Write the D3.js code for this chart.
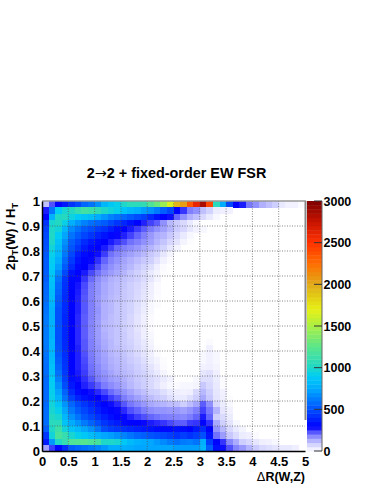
<!DOCTYPE html>
<html>
<head>
<meta charset="utf-8">
<script src="https://cdn.jsdelivr.net/npm/d3@7"></script>
<style>
html,body{margin:0;padding:0;background:#fff;}
svg{display:block;}
text{font-family:"Liberation Sans",Arial,sans-serif;font-weight:bold;fill:#000;}
</style>
</head>
<body>
<script>
var xTicks = [0,0.5,1,1.5,2,2.5,3,3.5,4,4.5,5];
var yTicks = [0,0.1,0.2,0.3,0.4,0.5,0.6,0.7,0.8,0.9,1];
var zTicks = [0,500,1000,1500,2000,2500,3000];
var colorStops = [0,100,200,290,500,750,900,1000,1250,1500,1700,2000,2250,2500,2750,3000];
var colorValues = ["#ffffff","#c8c8ff","#7878ff","#0000ff","#0050ff","#00aaff","#00cdf5","#1ed7c8","#5ae68c","#aaf046","#e6f014","#e1aa19","#ff6e00","#ff3200","#c81400","#7d0000"];

// rows run from the top of the plot (0.975-1) down to (0-0.025), 40 bins of 0.125 in dR, missing = 0
var counts = [
[110,230,300,350,420,480,560,600,680,800,880,920,1000,1060,1060,1080,1200,1300,1450,1650,1950,2050,2350,2600,2850,2420,1050,760,480,300,270,200,170,130,110,90,40,25,25,10],
[270,600,900,980,1020,1100,1150,1130,1080,1000,960,920,860,810,770,720,680,620,540,470,300,250,190,170,110,80,35,30,25],
[300,780,1010,1030,950,890,860,830,760,700,640,600,570,530,490,460,400,340,300,280,215,170,130,110,70,40,15],
[420,980,1020,930,770,700,640,590,560,530,480,430,390,340,300,265,240,220,170,120,95,70,40,15],
[460,1000,960,800,660,590,530,490,450,420,370,320,300,270,245,220,195,170,150,125,95,75,45,25,15],
[480,1010,900,740,600,530,470,430,380,340,305,285,265,240,215,190,160,135,125,100,70,40,15],
[490,1000,850,680,540,470,400,350,310,290,270,250,230,205,190,170,150,125,105,75,50,20,5],
[500,960,820,640,510,430,360,310,295,270,240,210,190,175,160,140,125,105,80,45,20],
[520,930,800,610,480,370,320,295,280,245,205,185,165,150,135,120,100,80,45,20],
[530,910,760,570,440,340,300,285,255,215,185,165,145,130,115,100,85,55,25,10],
[530,900,720,530,400,310,290,265,230,195,170,150,135,120,100,80,60,30,10],
[540,880,660,480,340,300,270,235,205,175,155,140,125,105,85,65,40,20,5],
[540,860,600,430,310,285,250,210,175,150,130,120,110,100,85,65,45,20],
[560,840,570,420,305,275,235,195,165,140,125,115,105,90,75,55,30,10],
[570,830,550,410,300,270,230,190,165,140,125,115,100,90,70,50,30,10],
[580,820,530,400,300,265,225,190,160,135,120,110,100,85,65,45,25,5],
[590,800,520,400,300,265,225,190,160,130,120,105,95,80,60,40,15,5],
[600,790,500,400,300,265,225,190,165,130,120,105,95,80,55,35,15],
[610,790,500,390,295,260,220,190,160,130,115,105,95,75,50,30,10],
[620,790,500,390,295,260,220,185,155,125,115,105,90,75,50,30,10],
[620,790,500,390,295,260,220,185,155,125,115,105,90,75,50,30,10],
[620,790,500,390,295,260,220,185,155,130,115,105,95,75,55,30,15],
[620,800,500,395,295,260,225,190,160,135,120,105,95,80,60,40,20,0,0,0,0,0,0,0,0,10],
[610,800,510,400,300,265,225,190,165,140,120,110,100,85,65,45,25,5,0,0,0,0,0,0,0,25],
[600,810,520,410,300,265,230,195,165,145,125,115,105,90,70,50,30,10,0,0,0,0,0,0,15,25,15],
[590,830,540,420,300,265,235,200,170,150,130,120,110,95,80,60,35,20,5,0,0,0,0,0,15,25,15],
[580,850,560,430,300,265,240,205,180,155,135,125,115,105,90,70,50,30,10,0,0,0,0,0,25,30,20],
[580,860,590,440,305,270,245,210,185,165,145,130,120,110,95,80,60,40,20,5,0,0,0,0,45,55,30],
[570,890,630,460,325,280,255,225,195,175,155,145,130,115,100,85,70,55,40,25,0,0,0,15,60,60,35,10],
[570,910,680,490,350,300,265,245,220,195,175,160,140,120,105,90,70,50,30,15,10,15,15,20,100,70,40,10],
[570,920,730,550,400,320,295,280,260,235,210,190,165,145,125,110,90,80,60,40,30,25,30,70,120,90,45,25],
[570,930,780,600,460,380,335,310,290,270,245,225,195,170,150,130,115,100,85,60,40,40,60,90,140,100,50,30,5],
[570,960,860,690,560,480,430,380,335,300,280,260,225,200,180,160,140,130,125,115,110,90,115,140,220,170,70,35,15],
[580,980,920,740,610,530,470,420,370,320,300,285,260,230,215,195,175,165,165,160,160,150,165,190,240,200,125,45,25],
[580,1020,980,800,680,600,520,470,420,370,325,300,285,265,245,230,215,205,195,190,185,180,195,215,270,215,90,65,35],
[580,1050,1050,860,760,690,620,550,490,430,390,360,310,300,295,285,270,260,250,235,220,220,245,250,300,255,140,85,50,15],
[540,1010,1130,960,860,810,740,680,600,490,450,430,410,390,370,350,340,320,310,310,330,320,300,350,400,290,165,120,70,40,20],
[430,960,1180,1100,980,920,880,830,780,740,720,680,640,600,560,540,510,490,470,450,420,450,420,450,500,340,205,155,100,65,35,30,10],
[360,700,1000,1100,1200,1220,1230,1200,1170,1000,1000,980,880,820,780,760,740,700,660,620,590,620,630,600,770,450,300,250,180,135,90,70,45,30,25,15],
[150,245,310,410,530,560,590,620,650,700,760,760,770,760,740,740,740,740,740,740,720,720,720,720,800,540,330,280,230,185,160,125,95,70,60,50,40,40,30]
];

var width = 383, height = 496;
var left = 42, right = 305, top_ = 201, bottom = 451;
var binW = 0.125, binH = 0.025;

var svg = d3.select("body").append("svg").attr("width",width).attr("height",height);

var x = d3.scaleLinear().domain([0,5]).range([left,right]);
var y = d3.scaleLinear().domain([0,1]).range([bottom,top_]);
var z = d3.scaleLinear().domain([0,3000]).range([451,201]);
var color = d3.scaleLinear().domain(colorStops).range(colorValues).clamp(true);

//heat map cells
counts.forEach(function(row,r){
  row.forEach(function(v,c){
    if(!v) return;
    svg.append("rect")
      .attr("x",x(c*binW)).attr("y",y(1-r*binH))
      .attr("width",x(binW)-x(0)+0.5).attr("height",y(0)-y(binH)+0.5)
      .attr("shape-rendering","crispEdges")
      .attr("fill",color(v));
  });
});

//grid
xTicks.slice(1,-1).forEach(function(t){
  svg.append("line").attr("x1",x(t)).attr("x2",x(t)).attr("y1",top_).attr("y2",bottom)
    .attr("stroke","#555").attr("stroke-width",1).attr("stroke-dasharray","1,1.5").attr("opacity",0.7);
});
yTicks.slice(1,-1).forEach(function(t){
  svg.append("line").attr("x1",left).attr("x2",right).attr("y1",y(t)).attr("y2",y(t))
    .attr("stroke","#555").attr("stroke-width",1).attr("stroke-dasharray","1,1.5").attr("opacity",0.7);
});

//frame, gray on top and right
svg.append("line").attr("x1",left).attr("x2",right+1).attr("y1",top_).attr("y2",top_).attr("stroke","#999").attr("stroke-width",1.5);
svg.append("line").attr("x1",right+0.5).attr("x2",right+0.5).attr("y1",top_).attr("y2",420).attr("stroke","#888").attr("stroke-width",2);

//axes
var xAxis = svg.append("g").attr("transform","translate(0,"+bottom+")")
  .call(d3.axisBottom(x).tickValues(xTicks).tickSize(0).tickPadding(6).tickFormat(d3.format("")));
var yAxis = svg.append("g").attr("transform","translate("+left+",0)")
  .call(d3.axisLeft(y).tickValues(yTicks).tickSize(0).tickPadding(2).tickFormat(d3.format("")));
xAxis.selectAll("path").attr("stroke","#000").attr("stroke-width",1.5);
yAxis.selectAll("path").attr("stroke","#000").attr("stroke-width",1.5);
svg.selectAll("g text").style("font-size","13px").style("font-family","'Liberation Sans',Arial,sans-serif").style("font-weight","bold");

//color bar
var bands = d3.range(0,3000,50);
bands.forEach(function(v){
  svg.append("rect").attr("x",307).attr("y",z(v+50)).attr("width",15).attr("height",z(v)-z(v+50)+0.4)
    .attr("fill",color(v+25));
});
svg.append("line").attr("x1",322).attr("x2",322).attr("y1",z(3000)).attr("y2",z(0)).attr("stroke","#666").attr("stroke-width",1);
zTicks.forEach(function(t){
  svg.append("line").attr("x1",314).attr("x2",322).attr("y1",z(t)).attr("y2",z(t)).attr("stroke","#333").attr("stroke-width",1);
  svg.append("text").attr("x",323.5).attr("y",z(t)+4.5).style("font-size","12.5px").text(t);
});

//titles
var title = svg.append("text").attr("x",176.5).attr("y",178).attr("text-anchor","middle").style("font-size","14.4px");
title.append("tspan").text("2");
title.append("tspan").style("font-weight","normal").style("font-family","'DejaVu Sans'").text("\u2192");
title.append("tspan").text("2 + fixed-order EW FSR");

var xTitle = svg.append("text").attr("x",305).attr("y",481).attr("text-anchor","end").style("font-size","12.5px");
xTitle.append("tspan").style("font-weight","normal").style("font-family","'DejaVu Sans'").text("\u0394");
xTitle.append("tspan").text("R(W,Z)");

var yTitle = svg.append("text").attr("transform","translate(15,203) rotate(-90)").attr("text-anchor","end").style("font-size","13px");
yTitle.append("tspan").text("2p");
yTitle.append("tspan").attr("dy",3).style("font-size","9px").text("T");
yTitle.append("tspan").attr("dy",-3).text("(W) / H");
yTitle.append("tspan").attr("dy",3).style("font-size","9px").text("T");
</script>
</body>
</html>
